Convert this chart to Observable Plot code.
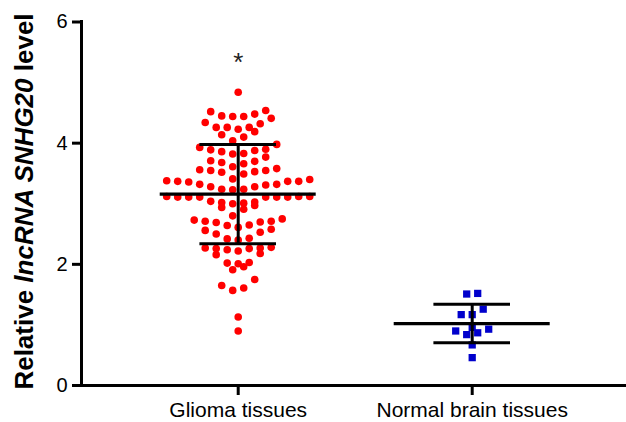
<!DOCTYPE html>
<html>
<head>
<meta charset="utf-8">
<script src="https://cdn.jsdelivr.net/npm/d3@7"></script>
<script src="https://cdn.jsdelivr.net/npm/@observablehq/plot@0.6"></script>
<style>
  body { margin: 0; background: #ffffff; }
  #chart svg { display: block; }
</style>
</head>
<body>
<div id="chart"></div>
<script>
// ---------- data ----------
const categories = ["Glioma tissues", "Normal brain tissues"];

const gliomaValues = [
  4.84,
  4.54, 4.48, 4.44, 4.44, 4.45, 4.52, 4.41, 4.34,
  4.32, 4.26, 4.23, 4.26, 4.26, 4.19, 4.10, 4.14, 4.04,
  3.98, 3.93, 3.89, 3.86, 3.82, 3.83, 3.88, 3.90, 3.77, 3.70, 3.66, 3.68, 3.71, 3.61,
  3.56, 3.55, 3.52, 3.41, 3.49, 3.53, 3.55, 3.58,
  3.40, 3.37, 3.37, 3.32, 3.31, 3.28, 3.23, 3.24, 3.24, 3.28, 3.32, 3.36, 3.37, 3.38,
  3.12, 3.12, 3.11, 3.11, 3.03, 3.02, 3.00, 2.94, 2.97, 3.01, 3.04, 3.11, 3.11, 3.11, 3.11, 3.12, 2.91,
  2.80, 2.75, 2.71, 2.70, 2.65, 2.61, 2.50, 2.56, 2.58, 2.64, 2.53, 2.69, 2.71, 2.73, 2.42, 2.40, 2.43,
  2.28, 2.27, 2.26, 2.22, 2.16, 2.18, 2.24, 2.26, 2.27,
  2.02, 1.96, 1.91, 2.01, 2.03,
  1.65, 1.57, 1.61, 1.75,
  1.13, 0.90
];

const normalValues = [1.52, 1.51, 1.26, 1.17, 1.17, 0.96, 0.93, 0.90, 0.87, 0.84, 0.67, 0.46];

const yTicks = [0, 2, 4, 6];
const significanceMark = "*";
const yLabelParts = [["Relative ", "normal"], ["lncRNA SNHG20", "italic"], [" level", "normal"]];

// ---------- layout ----------
const W = 626, H = 422;
const M = { top: 21.5, right: 0, bottom: 37, left: 81 };
const xDomain = [-0.6697, 1.6594];
const pxPerX = (W - M.left - M.right) / (xDomain[1] - xDomain[0]);
const dotGap = 11 / pxPerX;        // spacing of neighbouring symbols
const maxSpread = 146 / pxPerX;     // widest row
const binOrigin = 4.424, binH = 0.2039;  // row bins (column-scatter layout)
const FONT = "'Liberation Sans', Arial, Helvetica, sans-serif";

function columnScatter(values, gi) {
  const rows = d3.group(values.map(v => ({ v })), d => Math.floor((binOrigin - d.v) / binH));
  const out = [];
  for (const row of rows.values()) {
    row.sort((a, b) => a.v - b.v);
    const n = row.length;
    const step = n > 1 ? Math.min(dotGap, maxSpread / (n - 1)) : 0;
    row.forEach((d, j) => {
      let slot;
      if (n % 2) slot = j === 0 ? 0 : (j % 2 ? -(j + 1) / 2 : j / 2);
      else slot = j % 2 === 0 ? -(j / 2 + 0.5) : (j - 1) / 2 + 0.5;
      out.push({ group: gi, value: d.v, xpos: gi + slot * step });
    });
  }
  return out;
}

const gliomaPts = columnScatter(gliomaValues, 0);
const normalPts = columnScatter(normalValues, 1);

const stats = [gliomaValues, normalValues].map((vals, i) => {
  const m = d3.mean(vals), s = d3.deviation(vals);
  return { i, mean: m, lo: m - s, hi: m + s, max: d3.max(vals) };
});
const meanHalf = 78 / pxPerX, capHalf = 38.3 / pxPerX;

const chart = Plot.plot({
  width: W,
  height: H,
  marginTop: M.top,
  marginRight: M.right,
  marginBottom: M.bottom,
  marginLeft: M.left,
  style: { fontFamily: FONT, color: "black", background: "white", overflow: "visible" },
  x: { type: "linear", domain: xDomain, axis: null },
  y: { domain: [0, 6], axis: null },
  marks: [
    Plot.dot(gliomaPts, { x: "xpos", y: "value", r: 3.8, fill: "#ff0000" }),
    Plot.dot(normalPts, { x: "xpos", y: "value", r: 4.1, symbol: "square", fill: "#0000cc" }),
    Plot.ruleY(stats, { y: "mean", x1: d => d.i - meanHalf, x2: d => d.i + meanHalf, stroke: "black", strokeWidth: 3.3 }),
    Plot.ruleY(stats, { y: "hi", x1: d => d.i - capHalf, x2: d => d.i + capHalf, stroke: "black", strokeWidth: 3 }),
    Plot.ruleY(stats, { y: "lo", x1: d => d.i - capHalf, x2: d => d.i + capHalf, stroke: "black", strokeWidth: 3 }),
    Plot.ruleX(stats, { x: "i", y1: "lo", y2: "hi", stroke: "black", strokeWidth: 3 }),
    Plot.ruleX([xDomain[0]], { y1: 0, y2: 6, stroke: "black", strokeWidth: 3, strokeLinecap: "square" }),
    Plot.ruleY([0], { stroke: "black", strokeWidth: 3 }),
    Plot.axisY({ ticks: yTicks, tickFormat: d => String(d), tickSize: 9, tickPadding: 5, strokeWidth: 3, fontSize: 20, label: null }),
    Plot.axisX({ ticks: [0, 1], tickFormat: i => categories[i], tickSize: 10, tickPadding: 7, strokeWidth: 3, fontSize: 21, label: null }),
    Plot.text([stats[0]], { x: "i", y: d => d.max + 0.49, text: () => significanceMark, fontSize: 26, fill: "#222222" })
  ]
});

document.getElementById("chart").appendChild(chart);

// y-axis title with mixed italic run
const label = d3.select(chart).append("text")
  .attr("transform", "translate(33,201.5) rotate(-90)")
  .attr("text-anchor", "middle")
  .attr("font-family", FONT)
  .attr("font-weight", "bold")
  .attr("font-size", 26)
  .attr("fill", "black")
  .style("white-space", "pre");
yLabelParts.forEach(([s, st]) => label.append("tspan").attr("font-style", st).text(s));
</script>
</body>
</html>
